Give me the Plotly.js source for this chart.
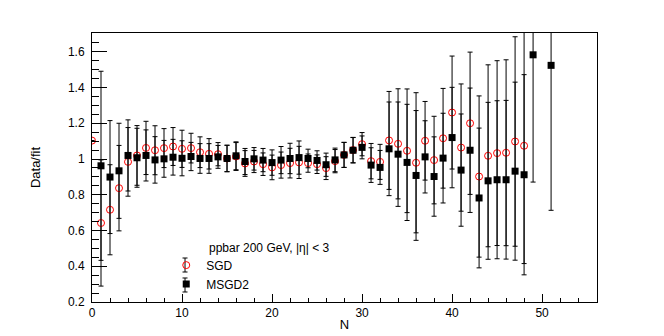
<!DOCTYPE html>
<html>
<head>
<meta charset="utf-8">
<script src="https://cdn.plot.ly/plotly-3.0.1.min.js"></script>
<style>
  html, body { margin: 0; padding: 0; background: white; }
  #plot { width: 664px; height: 336px; }
</style>
</head>
<body>
<div id="plot"></div>
<script>
// multiplicity bins
const N = [0, 1, 2, 3, 4, 5, 6, 7, 8, 9, 10, 11, 12, 13, 14, 15, 16, 17, 18, 19, 20,
  21, 22, 23, 24, 25, 26, 27, 28, 29, 30, 31, 32, 33, 34, 35, 36, 37, 38, 39, 40,
  41, 42, 43, 44, 45, 46, 47, 48, 49, 50, 51];

// data/fit ratio, SGD fit
const sgd = [1.103, 0.642, 0.716, 0.837, 0.984, 1.020, 1.062, 1.049, 1.061, 1.070, 1.057,
  1.061, 1.038, 1.029, 1.027, 1.003, 1.014, 0.975, 0.986, 0.971, 0.953,
  0.966, 0.977, 0.981, 0.977, 0.971, 0.949, 0.988, 1.023, 1.050, 1.083,
  0.988, 0.984, 1.104, 1.085, 1.046, 0.979, 1.102, 0.994, 1.116, 1.260,
  1.064, 1.200, 0.902, 1.018, 1.033, 1.035, 1.098, 1.074, null, null, null];
const sgdErr = [0, 0.353, 0.252, 0.239, 0.192, 0.167, 0.149, 0.137, 0.109, 0.106, 0.104,
  0.083, 0.086, 0.085, 0.065, 0.074, 0.078, 0.072, 0.062, 0.063, 0.069,
  0.073, 0.083, 0.090, 0.051, 0.052, 0.064, 0.065, 0.070, 0.071, 0.065,
  0.099, 0.098, 0.274, 0.308, 0.346, 0.392, 0.220, 0.245, 0.279, 0.316,
  0.356, 0.398, 0.451, 0.509, 0.517, 0.520, 0.586, 0.659, null, null, null];

// data/fit ratio, MSGD2 fit
const msgd2 = [null, 0.962, 0.899, 0.934, 1.020, 1.007, 1.020, 0.995, 1.001, 1.010, 1.004,
  1.014, 1.003, 1.003, 1.012, 1.003, 1.018, 0.986, 1.001, 0.994, 0.980,
  0.994, 1.003, 1.008, 1.003, 0.992, 0.968, 0.995, 1.023, 1.049, 1.065,
  0.966, 0.953, 1.057, 1.027, 0.981, 0.908, 1.012, 0.902, 1.005, 1.120,
  0.938, 1.049, 0.782, 0.878, 0.884, 0.884, 0.932, 0.912, 1.583, null, 1.524];
const msgd2Err = [null, 0.529, 0.316, 0.266, 0.199, 0.165, 0.143, 0.130, 0.103, 0.100, 0.098,
  0.079, 0.083, 0.083, 0.064, 0.074, 0.078, 0.073, 0.063, 0.065, 0.071,
  0.076, 0.085, 0.093, 0.052, 0.054, 0.065, 0.066, 0.070, 0.071, 0.064,
  0.097, 0.095, 0.262, 0.292, 0.325, 0.363, 0.202, 0.222, 0.251, 0.281,
  0.314, 0.348, 0.391, 0.439, 0.442, 0.444, 0.498, 0.560, 0.712, null, 0.811];

const FONT = 'Liberation Sans, Arial, sans-serif';

const errStyle = (arr) => ({ type: 'data', array: arr, visible: true, color: '#000', thickness: 1, width: 2.5 });

const traces = [
  {
    x: N, y: sgd, name: 'SGD', type: 'scatter', mode: 'markers',
    error_y: errStyle(sgdErr),
    marker: { symbol: 'circle-open', size: 7, color: '#ff0000', line: { width: 1, color: '#ff0000' } },
  },
  {
    x: N, y: msgd2, name: 'MSGD2', type: 'scatter', mode: 'markers',
    error_y: errStyle(msgd2Err),
    marker: { symbol: 'square', size: 7, color: '#000' },
  },
];

// little error-bar glyphs drawn behind the legend markers (legend box in paper coords)
const LEG_X = 0.1842;
const LEG_Y = [0.1375, 0.0632];
const legendGlyphs = LEG_Y.flatMap((yy) => [
  { type: 'line', xref: 'paper', yref: 'paper', xsizemode: 'pixel', ysizemode: 'pixel', xanchor: LEG_X, yanchor: yy, x0: 0, x1: 0, y0: -7, y1: 7, line: { color: '#000', width: 1 } },
  { type: 'line', xref: 'paper', yref: 'paper', xsizemode: 'pixel', ysizemode: 'pixel', xanchor: LEG_X, yanchor: yy, x0: -2.5, x1: 2.5, y0: 7, y1: 7, line: { color: '#000', width: 1 } },
  { type: 'line', xref: 'paper', yref: 'paper', xsizemode: 'pixel', ysizemode: 'pixel', xanchor: LEG_X, yanchor: yy, x0: -2.5, x1: 2.5, y0: -7, y1: -7, line: { color: '#000', width: 1 } },
]);

const axisBase = {
  showline: true, linecolor: '#000', linewidth: 1, mirror: true,
  ticks: 'inside', tickcolor: '#000', tickwidth: 1,
  showgrid: false, zeroline: false,
  tickfont: { family: FONT, size: 12, color: '#000' },
};

const layout = {
  width: 664, height: 336,
  margin: { l: 92, r: 67, t: 33, b: 34 },
  paper_bgcolor: 'white', plot_bgcolor: 'white',
  font: { family: FONT, size: 12, color: '#000' },
  showlegend: true,
  legend: {
    x: 0.147, y: 0.191, xanchor: 'left', yanchor: 'top',
    bgcolor: 'rgba(0,0,0,0)', borderwidth: 0,
    font: { family: FONT, size: 12, color: '#000' },
    itemclick: false,
  },
  annotations: [{
    text: 'ppbar 200 GeV, |η| < 3', xref: 'paper', yref: 'paper',
    x: 0.227, y: 0.2, xanchor: 'left', yanchor: 'middle', showarrow: false,
    font: { family: FONT, size: 12, color: '#000' },
  }],
  shapes: legendGlyphs,
  xaxis: {
    ...axisBase,
    range: [0, 56.1], tick0: 0, dtick: 10, ticklen: 8,
    minor: { dtick: 2, ticklen: 4, ticks: 'inside', tickcolor: '#000' },
    title: { text: 'N', font: { family: FONT, size: 13 }, standoff: 0 },
  },
  yaxis: {
    ...axisBase,
    range: [0.2, 1.705], tick0: 0.2, dtick: 0.2, ticklen: 15,
    minor: { dtick: 0.05, ticklen: 7, ticks: 'inside', tickcolor: '#000' },
    ticklabelstandoff: 4,
    title: { text: 'Data/fit', font: { family: FONT, size: 13 }, standoff: 24 },
  },
};

Plotly.newPlot('plot', traces, layout, { staticPlot: true, displayModeBar: false });
</script>
</body>
</html>
